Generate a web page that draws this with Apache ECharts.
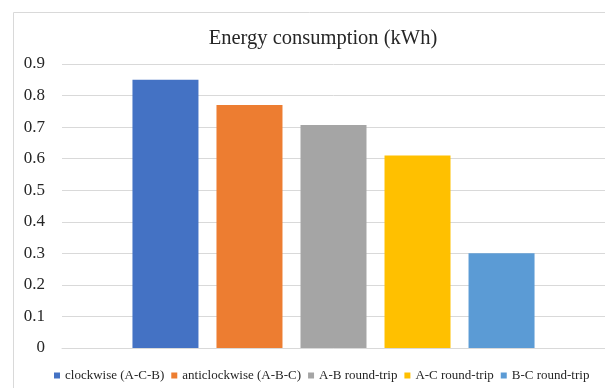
<!DOCTYPE html>
<html>
<head>
<meta charset="utf-8">
<script src="https://cdn.jsdelivr.net/npm/echarts@6/dist/echarts.min.js"></script>
<style>
  html, body { margin: 0; padding: 0; background: #ffffff; }
  #chart { width: 605px; height: 388px; }
</style>
</head>
<body>
<div id="chart"></div>
<script>
// Energy use per route, one bar per route
const categories = ['Energy'];
const seriesNames = ['clockwise (A-C-B)', 'anticlockwise (A-B-C)', 'A-B round-trip', 'A-C round-trip', 'B-C round-trip'];
const seriesValues = [0.85, 0.77, 0.707, 0.61, 0.30];
const seriesColors = ['#4472C4', '#ED7D31', '#A5A5A5', '#FFC000', '#5B9BD5'];
const yTicks = { min: 0, max: 0.9, interval: 0.1 };

const serif = "'Liberation Serif', 'Times New Roman', serif";

const chart = echarts.init(document.getElementById('chart'), null, { renderer: 'canvas' });

const series = seriesNames.map((name, i) => ({
  name: name,
  type: 'bar',
  data: [seriesValues[i]],
  barWidth: 66,
  barGap: '27.3%',
  itemStyle: { color: seriesColors[i] },
  animation: false
}));

chart.setOption({
  animation: false,
  title: {
    text: 'Energy consumption (kWh)',
    left: 318,
    top: 23,
    textAlign: 'center',
    textStyle: { fontFamily: serif, fontSize: 20.5, fontWeight: 'normal', color: '#262626' }
  },
  graphic: [{
    type: 'rect',
    shape: { x: 13.5, y: 12.5, width: 620, height: 400 },
    style: { fill: 'none', stroke: '#d9d9d9', lineWidth: 1 },
    silent: true,
    z: -10
  }],
  grid: { left: 62, right: 0, top: 64, bottom: 40, containLabel: false },
  legend: {
    data: seriesNames,
    left: 54,
    top: 369,
    width: 560,
    padding: 0,
    icon: 'rect',
    itemWidth: 6,
    itemHeight: 6,
    itemGap: 7,
    textStyle: { fontFamily: serif, fontSize: 13, color: '#262626' }
  },
  xAxis: {
    type: 'category',
    data: categories,
    axisLine: { show: true, lineStyle: { color: '#d9d9d9', width: 1 } },
    axisTick: { show: false },
    axisLabel: { show: false }
  },
  yAxis: {
    type: 'value',
    min: yTicks.min,
    max: yTicks.max,
    interval: yTicks.interval,
    axisLine: { show: false },
    axisTick: { show: false },
    splitLine: { lineStyle: { color: '#d9d9d9', width: 1 } },
    axisLabel: {
      margin: 17,
      fontFamily: serif,
      fontSize: 17,
      color: '#262626',
      formatter: v => String(Math.round(v * 10) / 10)
    }
  },
  series: series
});
</script>
</body>
</html>
